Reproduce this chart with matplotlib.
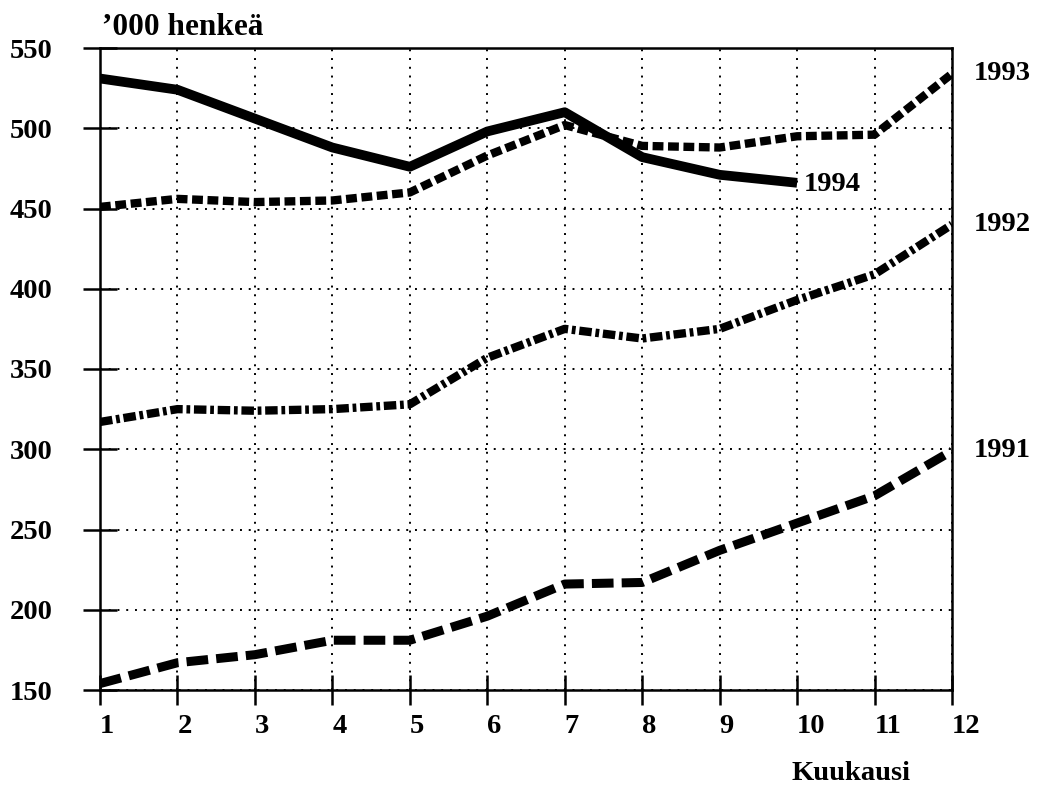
import matplotlib
matplotlib.use("Agg")
import matplotlib.pyplot as plt

months = [1, 2, 3, 4, 5, 6, 7, 8, 9, 10, 11, 12]
y1991 = [154, 167, 172, 181, 181, 196, 216, 217, 237, 254, 271, 299]
y1992 = [317, 325, 324, 325, 328, 357, 375, 369, 375, 393, 409, 440]
y1993 = [451, 456, 454, 455, 460, 483, 502, 489, 488, 495, 496, 534]
y1994 = [531, 524, 506, 488, 476, 498, 510, 482, 471, 466]
yticks = [150, 200, 250, 300, 350, 400, 450, 500, 550]
series_labels = ["1991", "1992", "1993", "1994"]
ylabel_text = "\u2019000 henkeä"
xlabel_text = "Kuukausi"

plt.rcParams['font.family'] = ['Liberation Serif', 'DejaVu Serif']
plt.rcParams['font.weight'] = 'bold'

fig = plt.figure(figsize=(10.42, 7.9), dpi=100)
ax = fig.add_axes([100/1042, 100/790, 852/1042, 642/790])

ax.plot(months, y1991, color='black', lw=6.5, linestyle=(0, (2.4, 0.9)),
        dash_capstyle='butt', solid_joinstyle='round')
ax.plot(months, y1992, color='black', lw=6.0, linestyle=(0, (1.5, 0.45, 0.45, 0.45)),
        dash_capstyle='butt')
ax.plot(months, y1993, color='black', lw=6.0, linestyle=(0, (1.3, 0.55)),
        dash_capstyle='butt')
ax.plot(months[:len(y1994)], y1994, color='black', lw=7.0, linestyle='-',
        solid_joinstyle='round', solid_capstyle='butt')

ax.set_xlim(1, 12)
ax.set_ylim(150, 550)
ax.set_xticks(months)
ax.set_yticks(yticks)
ax.set_xticklabels([str(m) for m in months], ha='left', fontsize=20.5, fontweight='bold')
ax.set_yticklabels([str(v) for v in yticks], fontsize=20.5, fontweight='bold', ha='left')

ax.tick_params(axis='y', direction='inout', length=24, width=1.8, pad=0)
ax.tick_params(axis='x', direction='inout', length=22, width=1.8, pad=6)
for lab in ax.get_yticklabels():
    lab.set_x(-90/852)
    lab.set_transform(ax.get_yaxis_transform())
for s in ax.spines.values():
    s.set_linewidth(1.8)
    s.set_color('black')

ax.grid(True, color='black', lw=1.4, linestyle=(0, (1, 3.5)))

# series labels
ax.annotate(series_labels[0], xy=(12, y1991[-1]), xytext=(22, 0), textcoords='offset pixels',
            va='center', ha='left', fontsize=20.5, fontweight='bold', annotation_clip=False)
ax.annotate(series_labels[1], xy=(12, y1992[-1]), xytext=(22, 0), textcoords='offset pixels',
            va='center', ha='left', fontsize=20.5, fontweight='bold', annotation_clip=False)
ax.annotate(series_labels[2], xy=(12, y1993[-1]), xytext=(22, 0), textcoords='offset pixels',
            va='center', ha='left', fontsize=20.5, fontweight='bold', annotation_clip=False)
ax.annotate(series_labels[3], xy=(10, y1994[-1]), xytext=(7, -2), textcoords='offset pixels',
            va='center', ha='left', fontsize=20.5, fontweight='bold', annotation_clip=False)

fig.text(102/1042, 1 - 35/790, ylabel_text, fontsize=22.5, fontweight='bold',
         ha='left', va='baseline')
fig.text(851/1042, 1 - 780/790, xlabel_text, fontsize=20.5, fontweight='bold',
         ha='center', va='baseline')

fig.savefig('out.png', dpi=100)
